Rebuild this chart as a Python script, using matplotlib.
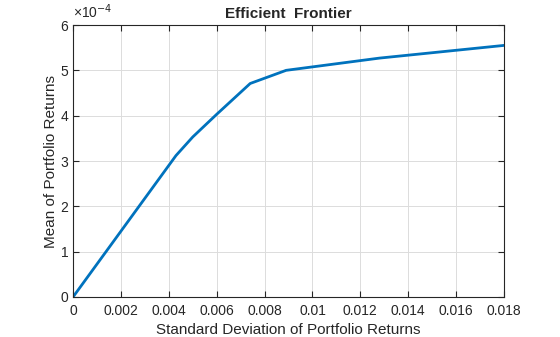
import matplotlib
matplotlib.use("Agg")
import matplotlib.pyplot as plt
import numpy as np
from matplotlib.ticker import FuncFormatter, MultipleLocator

plt.rcParams['font.family'] = ['Liberation Sans', 'DejaVu Sans']

# Efficient frontier points (std dev, mean in units of 1e-4)
risk = [0.0, 0.0043, 0.0050, 0.0060, 0.0074, 0.0089, 0.0128, 0.0180]
ret_e4 = [0.0, 3.12, 3.53, 4.03, 4.71, 5.00, 5.27, 5.55]

ret = np.array(ret_e4) * 1e-4
txt = '#262626'

fig = plt.figure(figsize=(5.6, 3.37), dpi=100)
ax = fig.add_axes([0.1304, 0.1187, 0.7696, 0.8071])
ax.plot(risk, ret, color='#0072BD', lw=2.0, solid_joinstyle='round')
ax.set_xlim(0, 0.018)
ax.set_ylim(0, 6e-4)
ax.xaxis.set_major_locator(MultipleLocator(0.002))
ax.yaxis.set_major_locator(MultipleLocator(1e-4))
ax.xaxis.set_major_formatter(FuncFormatter(lambda v, p: ('%g' % round(v, 6))))
ax.yaxis.set_major_formatter(FuncFormatter(lambda v, p: '%g' % round(v * 1e4, 6)))
ax.grid(True, color='#dcdcdc', lw=0.7)
ax.set_axisbelow(True)
for s in ax.spines.values():
    s.set_color(txt)
    s.set_linewidth(0.8)
ax.tick_params(direction='in', length=4, width=0.8, colors=txt, labelsize=10,
               top=True, right=True, labeltop=False, labelright=False)
ax.tick_params(axis='x', pad=5)
ax.set_xlabel('Standard Deviation of Portfolio Returns', fontsize=11, color=txt, labelpad=4)
ax.set_ylabel('Mean of Portfolio Returns', fontsize=11, color=txt, labelpad=2)
ax.set_title('Efficient  Frontier', fontsize=11, fontweight='bold', color=txt, pad=5)
ax.text(0.0, 1.015, '\u00d710$^{\\mathrm{-4}}$', transform=ax.transAxes, fontsize=10,
        color=txt, ha='left', va='bottom')
fig.savefig('out.png', dpi=100)
